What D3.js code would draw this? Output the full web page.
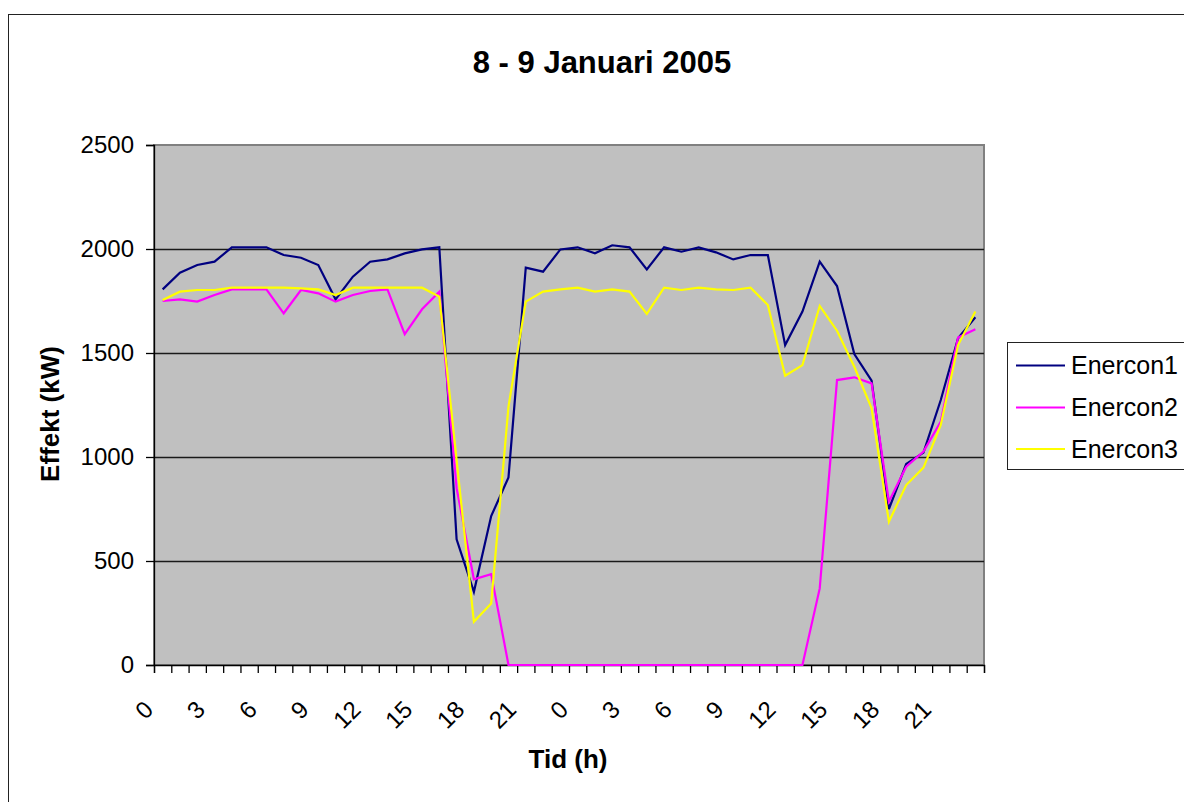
<!DOCTYPE html>
<html>
<head>
<meta charset="utf-8">
<script src="https://cdn.jsdelivr.net/npm/d3@7"></script>
<style>
  html, body { margin: 0; padding: 0; background: #fff; }
  svg { display: block; font-family: "Liberation Sans", Arial, sans-serif; }
</style>
</head>
<body>
<svg id="chart" width="1184" height="802"></svg>
<script>
// ---- data ----
const hours = [0,1,2,3,4,5,6,7,8,9,10,11,12,13,14,15,16,17,18,19,20,21,22,23,
               0,1,2,3,4,5,6,7,8,9,10,11,12,13,14,15,16,17,18,19,20,21,22,23];
const seriesNames = ["Enercon1", "Enercon2", "Enercon3"];
const enercon1 = [1806,1886,1923,1939,2008,2008,2008,1971,1958,1923,1758,1867,1939,1950,1979,1998,2008,604,352,716,902,1910,1891,1998,
                  2008,1979,2018,2008,1902,2008,1987,2008,1984,1950,1971,1971,1538,1699,1939,1822,1495,1367,750,966,1021,1274,1571,1672];
const enercon2 = [1750,1758,1747,1779,1806,1806,1806,1691,1803,1787,1747,1779,1798,1806,1591,1710,1795,850,412,437,0,0,0,0,
                  0,0,0,0,0,0,0,0,0,0,0,0,0,0,368,1370,1383,1354,785,953,1026,1170,1575,1614];
const enercon3 = [1755,1795,1803,1803,1814,1814,1814,1814,1811,1806,1779,1814,1814,1814,1814,1814,1771,985,208,296,1242,1747,1795,1806,
                  1814,1795,1806,1795,1688,1814,1803,1814,1806,1803,1814,1731,1391,1442,1726,1607,1434,1234,689,865,949,1154,1538,1699];
const yTicks = [0,500,1000,1500,2000,2500];
const labelEvery = 3;
const titleText = "8 - 9 Januari 2005";
const xTitle = "Tid (h)";
const yTitle = "Effekt (kW)";

// ---- layout ----
const colors = ["#000080", "#FF00FF", "#FFFF00"];
const plot = { left: 154, right: 984, top: 145, bottom: 665 };
const svg = d3.select("#chart");

// outer chart border (extends beyond the window like the reference)
svg.append("rect").attr("x", 8.5).attr("y", 14.5).attr("width", 1300).attr("height", 1000)
  .attr("fill", "#fff").attr("stroke", "#222").attr("stroke-width", 1);

const x = d3.scaleLinear().domain([0, hours.length]).range([plot.left, plot.right]);
const y = d3.scaleLinear().domain([0, 2500]).range([plot.bottom, plot.top]);

// plot area
svg.append("rect").attr("x", plot.left).attr("y", plot.top)
  .attr("width", plot.right - plot.left).attr("height", plot.bottom - plot.top)
  .attr("fill", "#C0C0C0").attr("stroke", "#808080").attr("stroke-width", 2);

// gridlines
svg.append("g").selectAll("line").data(yTicks.filter(d => d > 0 && d < 2500)).join("line")
  .attr("x1", plot.left).attr("x2", plot.right)
  .attr("y1", d => Math.round(y(d)) + 0.5).attr("y2", d => Math.round(y(d)) + 0.5)
  .attr("stroke", "#1a1a1a").attr("stroke-width", 1.3);

// y axis
const yAxis = d3.axisLeft(y).tickValues(yTicks).tickSize(8).tickPadding(12).tickFormat(d3.format("d"));
const gy = svg.append("g").attr("transform", `translate(${plot.left},0)`).call(yAxis);
gy.select(".domain").attr("stroke", "#000").attr("stroke-width", 1.3);
gy.selectAll(".tick line").attr("stroke", "#000").attr("stroke-width", 1.3);
gy.selectAll(".tick text").attr("font-size", 24).attr("fill", "#000")
  .attr("font-family", "Liberation Sans, Arial, sans-serif");

// x axis ticks at category boundaries
const xAxis = d3.axisBottom(x).tickValues(d3.range(0, hours.length + 1)).tickSize(8).tickFormat("");
const gx = svg.append("g").attr("transform", `translate(0,${plot.bottom})`).call(xAxis);
gx.select(".domain").attr("stroke", "#000").attr("stroke-width", 1.3);
gx.selectAll(".tick line").attr("stroke", "#000").attr("stroke-width", 1.3);

// x labels (rotated)
svg.append("g").selectAll("text")
  .data(hours.map((h, i) => ({ h, i })).filter(d => d.i % labelEvery === 0))
  .join("text")
  .attr("transform", d => `translate(${x(d.i + 0.5) - 14},705) rotate(-45)`)
  .attr("text-anchor", "end").attr("dominant-baseline", "central")
  .attr("font-size", 24).attr("fill", "#000")
  .text(d => d.h);

// lines
const allSeries = [enercon1, enercon2, enercon3];
const line = d3.line().x((d, i) => x(i + 0.5)).y(d => y(d));
allSeries.forEach((s, k) => {
  svg.append("path").datum(s).attr("d", line)
    .attr("fill", "none").attr("stroke", colors[k]).attr("stroke-width", 2.2)
    .attr("stroke-linejoin", "miter");
});

// titles
svg.append("text").attr("x", 602).attr("y", 73).attr("text-anchor", "middle")
  .attr("font-size", 31).attr("font-weight", "bold").text(titleText);
svg.append("text").attr("x", 568).attr("y", 768).attr("text-anchor", "middle")
  .attr("font-size", 26).attr("font-weight", "bold").text(xTitle);
svg.append("text").attr("transform", "translate(59,414) rotate(-90)").attr("text-anchor", "middle")
  .attr("font-size", 26).attr("font-weight", "bold").text(yTitle);

// legend
const lg = svg.append("g");
lg.append("rect").attr("x", 1007.5).attr("y", 342.5).attr("width", 300).attr("height", 127)
  .attr("fill", "#fff").attr("stroke", "#222").attr("stroke-width", 1);
const rowsY = [365.5, 407.5, 449];
seriesNames.forEach((n, k) => {
  lg.append("line").attr("x1", 1016).attr("x2", 1065).attr("y1", rowsY[k]).attr("y2", rowsY[k])
    .attr("stroke", colors[k]).attr("stroke-width", 2.2);
  lg.append("text").attr("x", 1071).attr("y", rowsY[k] + 8.5).attr("font-size", 25).attr("fill", "#000").text(n);
});
</script>
</body>
</html>
